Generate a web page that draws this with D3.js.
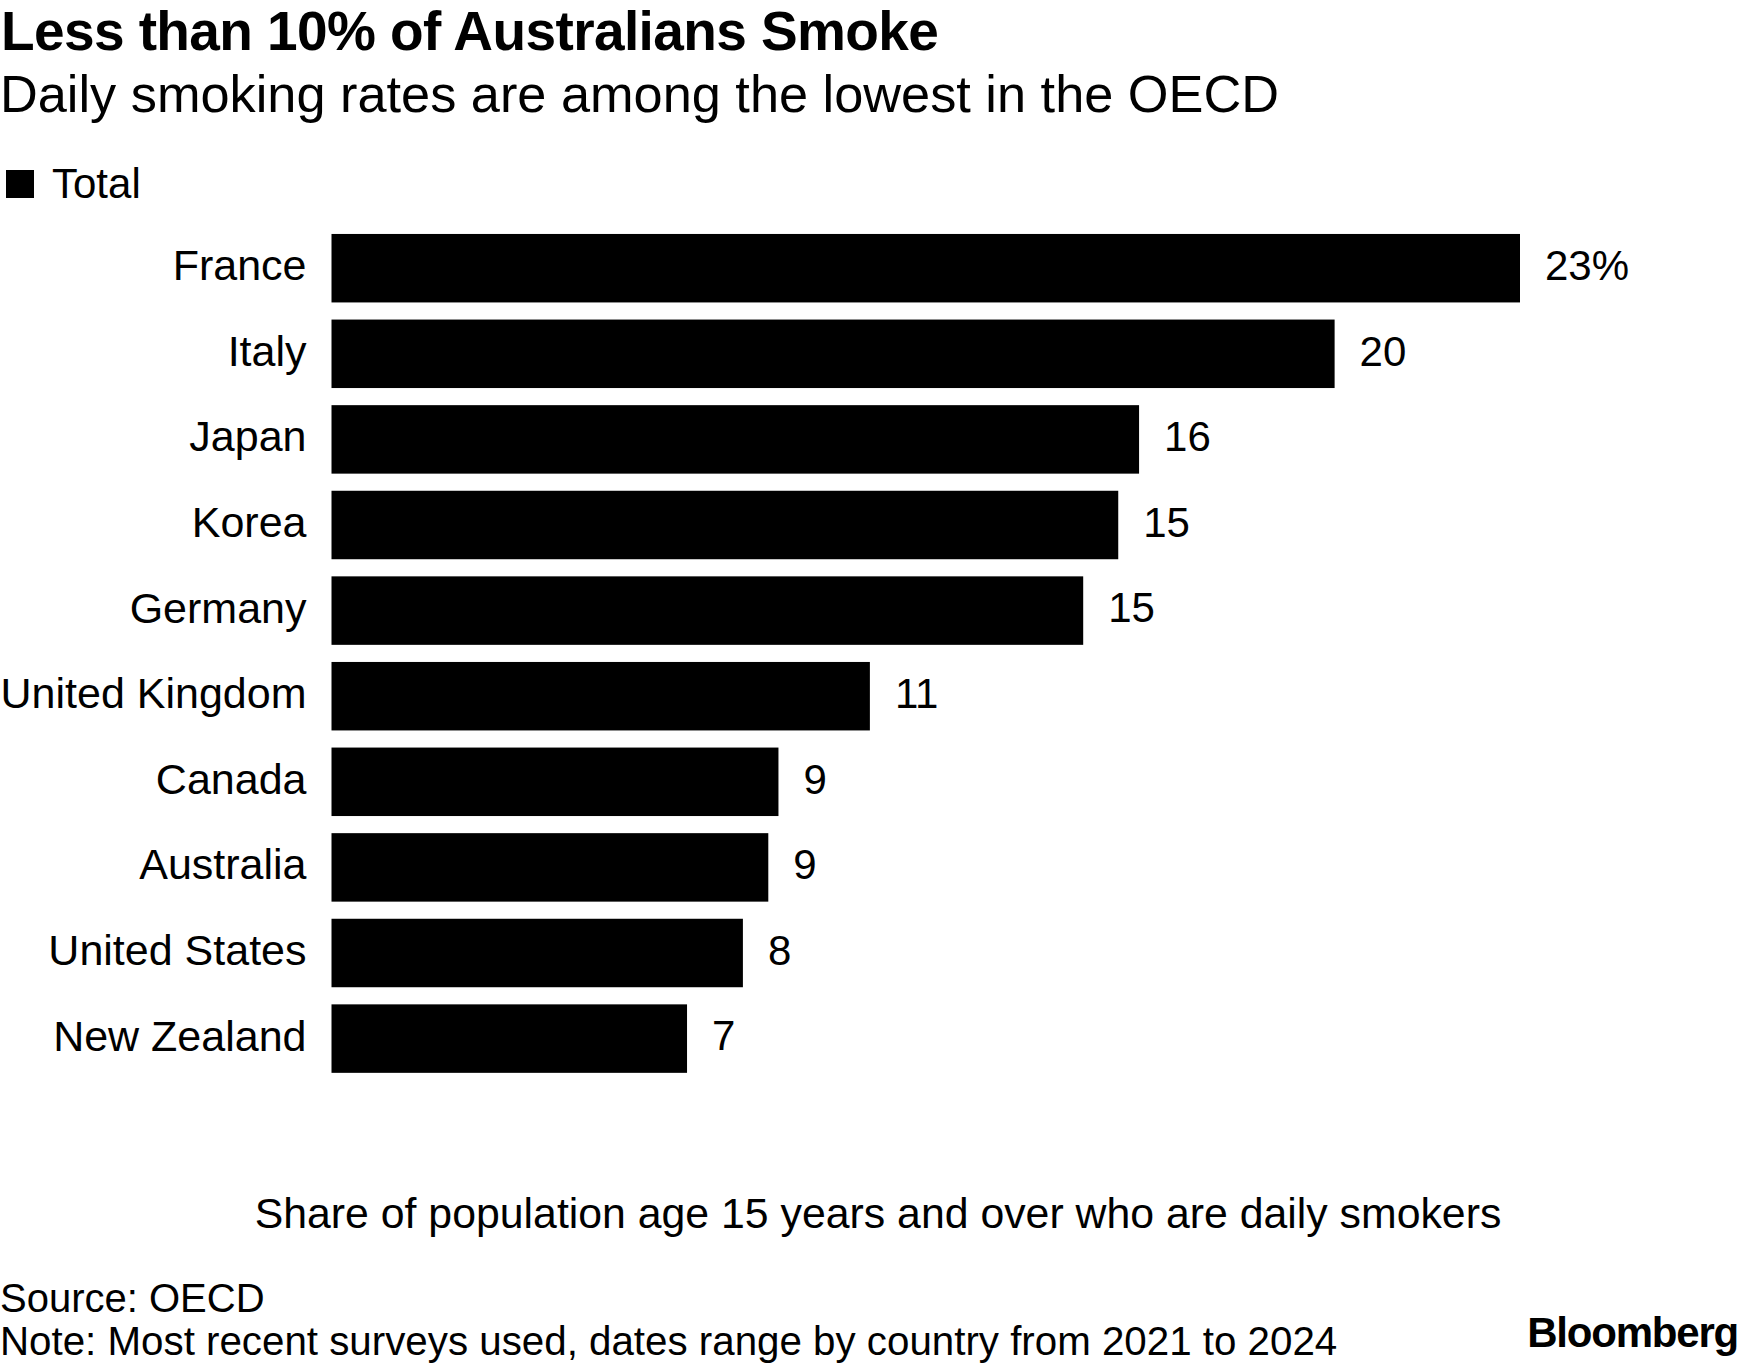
<!DOCTYPE html>
<html>
<head>
<meta charset="utf-8">
<script src="https://cdn.jsdelivr.net/npm/d3@7"></script>
<style>
  body { margin: 0; background: #fff; }
  text { font-family: "Liberation Sans", Arial, Helvetica, sans-serif; fill: #000; }
</style>
</head>
<body>
<div class="chart"></div>
<script>
// data
const countries = ["France", "Italy", "Japan", "Korea", "Germany", "United Kingdom",
                   "Canada", "Australia", "United States", "New Zealand"];
const rates = [23.4, 19.75, 15.9, 15.49, 14.8, 10.6, 8.8, 8.6, 8.1, 7.0];

const title = "Less than 10% of Australians Smoke";
const subtitle = "Daily smoking rates are among the lowest in the OECD";
const legendLabel = "Total";
const axisTitle = "Share of population age 15 years and over who are daily smokers";
const sourceText = "Source: OECD";
const noteText = "Note: Most recent surveys used, dates range by country from 2021 to 2024";

const data = countries.map((c, i) => ({country: c, rate: rates[i]}));

const width = 1756;
const height = 1365;

const svg = d3.select('.chart').append('svg')
    .attr('width', width)
    .attr('height', height);

//Scales
const xScale = d3.scaleLinear()
    .domain([0, d3.max(rates)])
    .range([331.5, 1520]);

const yScale = d3.scaleBand()
    .domain(countries)
    .range([225.4, 1081.4])
    .paddingInner(0.2)
    .paddingOuter(0.1);

// headline
svg.append('text')
    .attr('x', 1)
    .attr('y', 50)
    .style('font-size', '55px')
    .style('font-weight', 'bold')
    .style('letter-spacing', '-0.6px')
    .text(title);

svg.append('text')
    .attr('x', 0)
    .attr('y', 112)
    .style('font-size', '52.3px')
    .text(subtitle);

// legend
svg.append('rect')
    .attr('x', 6)
    .attr('y', 170)
    .attr('width', 28)
    .attr('height', 28)
    .attr('fill', '#000');

svg.append('text')
    .attr('x', 52)
    .attr('y', 198)
    .style('font-size', '42px')
    .text(legendLabel);

// bars
svg.selectAll('.bar')
    .data(data)
    .enter()
    .append('rect')
    .attr('class', 'bar')
    .attr('x', xScale(0))
    .attr('y', d => yScale(d.country))
    .attr('width', d => xScale(d.rate) - xScale(0))
    .attr('height', yScale.bandwidth())
    .attr('fill', '#000');

// country axis
const yAxis = d3.axisLeft(yScale).tickSize(0).tickPadding(25);
const yG = svg.append('g')
    .attr('transform', `translate(${xScale(0)},0)`)
    .call(yAxis);
yG.select('.domain').remove();
yG.selectAll('text')
    .style('font-size', '43px')
    .style('font-family', '"Liberation Sans", Arial, sans-serif')
    .attr('dy', '0.28em');

// value labels
svg.selectAll('.value')
    .data(data)
    .enter()
    .append('text')
    .attr('class', 'value')
    .attr('x', d => xScale(d.rate) + 25)
    .attr('y', d => yScale(d.country) + yScale.bandwidth() / 2)
    .attr('dy', '0.28em')
    .style('font-size', '42px')
    .text((d, i) => Math.round(d.rate) + (i === 0 ? '%' : ''));

// axis title
svg.append('text')
    .attr('x', width / 2)
    .attr('y', 1228)
    .attr('text-anchor', 'middle')
    .style('font-size', '42.8px')
    .text(axisTitle);

// footer
svg.append('text')
    .attr('x', 0)
    .attr('y', 1312)
    .style('font-size', '40px')
    .text(sourceText);

svg.append('text')
    .attr('x', 0)
    .attr('y', 1355)
    .style('font-size', '40.3px')
    .text(noteText);

svg.append('text')
    .attr('x', 1738)
    .attr('y', 1347)
    .attr('text-anchor', 'end')
    .style('font-size', '42px')
    .style('font-weight', 'bold')
    .style('letter-spacing', '-1.2px')
    .text('Bloomberg');
</script>
</body>
</html>
